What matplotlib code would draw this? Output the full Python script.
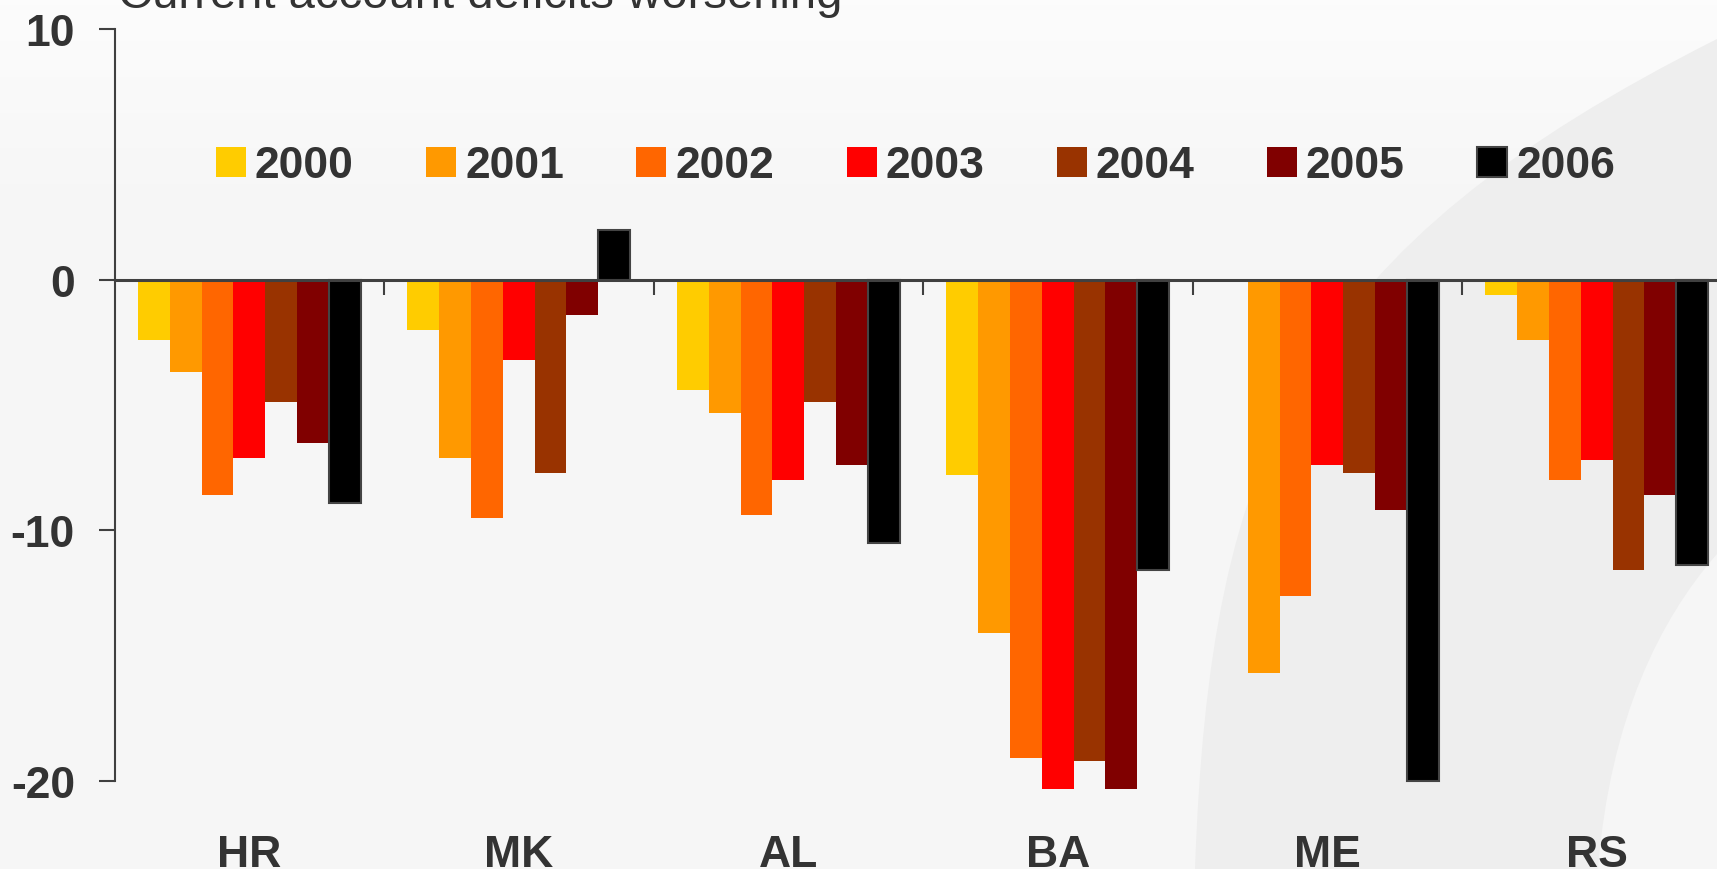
import numpy as np
import matplotlib
matplotlib.use("Agg")
import matplotlib.pyplot as plt
from matplotlib.path import Path
from matplotlib.patches import PathPatch

plt.rcParams['font.family'] = ['Liberation Sans', 'DejaVu Sans']
plt.rcParams['axes.unicode_minus'] = False

# data (current account balance, % of GDP)
countries = ["HR", "MK", "AL", "BA", "ME", "RS"]
years = ["2000", "2001", "2002", "2003", "2004", "2005", "2006"]
y2000 = [-2.4, -2.0, -4.4, -7.8, np.nan, -0.6]
y2001 = [-3.7, -7.1, -5.3, -14.1, -15.7, -2.4]
y2002 = [-8.6, -9.5, -9.4, -19.1, -12.6, -8.0]
y2003 = [-7.1, -3.2, -8.0, -20.3, -7.4, -7.2]
y2004 = [-4.9, -7.7, -4.9, -19.2, -7.7, -11.6]
y2005 = [-6.5, -1.4, -7.4, -20.3, -9.2, -8.6]
y2006 = [-8.9, 2.0, -10.5, -11.6, -20.0, -11.4]
series = [y2000, y2001, y2002, y2003, y2004, y2005, y2006]
colors = ["#FFCC00", "#FF9900", "#FF6600", "#FF0000", "#993300", "#800000", "#000000"]

title = "Current account deficits worsening"
txt = "#333333"
W, H = 1717, 870

fig = plt.figure(figsize=(W / 100, H / 100), dpi=100)
fig.patch.set_facecolor("#F5F5F5")

# background: light vertical fade plus the grey swoosh on the right
bg = fig.add_axes([0, 0, 1, 1], zorder=-10)
bg.set_xlim(0, W)
bg.set_ylim(H, 0)
bg.axis("off")
grad = np.clip(0.985 - (np.arange(H) / 220.0) * 0.024, 0.961, 1)
grad = np.repeat(grad[:, None], 4, axis=1)
bg.imshow(grad, cmap="gray", vmin=0, vmax=1, extent=[0, W, H, 0], aspect="auto")
verts = [(1195, 870), (1210, 450), (1300, 250), (1717, 40),
         (1717, 555),
         (1660, 620), (1610, 720), (1598, 870),
         (1195, 870)]
codes = [Path.MOVETO, Path.CURVE4, Path.CURVE4, Path.CURVE4,
         Path.LINETO,
         Path.CURVE4, Path.CURVE4, Path.CURVE4,
         Path.CLOSEPOLY]
bg.add_patch(PathPatch(Path(verts, codes), facecolor="#EEEEEE", edgecolor="none"))

ax = fig.add_axes([114.5 / W, 1 - 782 / H, 1617 / W, 752 / H])
ax.set_facecolor("none")

x = np.arange(len(countries))
w = 0.118
for j, (vals, c) in enumerate(zip(series, colors)):
    if years[j] == "2006":
        ax.bar(x + (j - 3) * w, vals, w, color=c, edgecolor="#444444",
               linewidth=1.5, label=years[j], zorder=2, clip_on=False)
    else:
        ax.bar(x + (j - 3) * w, vals, w, color=c, linewidth=0,
               label=years[j], zorder=2, clip_on=False)

ax.set_xlim(-0.5, len(countries) - 0.5)
ax.set_ylim(-20, 10)
ax.set_yticks([-20, -10, 0, 10])
ax.set_yticklabels(["-20", "-10", "0", "10"])
ax.set_xticks(x[:-1] + 0.5)
ax.set_xticklabels([])

for s in ["top", "right"]:
    ax.spines[s].set_visible(False)
ax.spines["left"].set_color("#404040")
ax.spines["left"].set_linewidth(1.5)
ax.spines["bottom"].set_position(("data", 0))
ax.spines["bottom"].set_color("#404040")
ax.spines["bottom"].set_linewidth(2.2)
ax.spines["bottom"].set_zorder(3)

ax.tick_params(axis="y", length=11.5, width=1.5, color="#404040", pad=17,
               labelsize=32, labelcolor=txt)
ax.tick_params(axis="x", length=11, width=1.5, color="#404040")
for lab in ax.get_yticklabels():
    lab.set_fontweight("bold")

for i, name in enumerate(countries):
    ax.text(x[i], -22.1, name, ha="center", va="top", fontsize=32,
            fontweight="bold", color=txt, clip_on=False)

leg = ax.legend(loc="center left", bbox_to_anchor=(0.0628, 0.818), ncol=7,
                frameon=False, borderpad=0, borderaxespad=0,
                handlelength=0.675, handleheight=0.675, handletextpad=0.2,
                columnspacing=1.63, labelcolor=txt,
                prop={"weight": "bold", "size": 32})

fig.text(118 / W, 1 - 8 / H, title, fontsize=34, color=txt, va="baseline")

fig.savefig("out.png", dpi=100, facecolor=fig.get_facecolor())
